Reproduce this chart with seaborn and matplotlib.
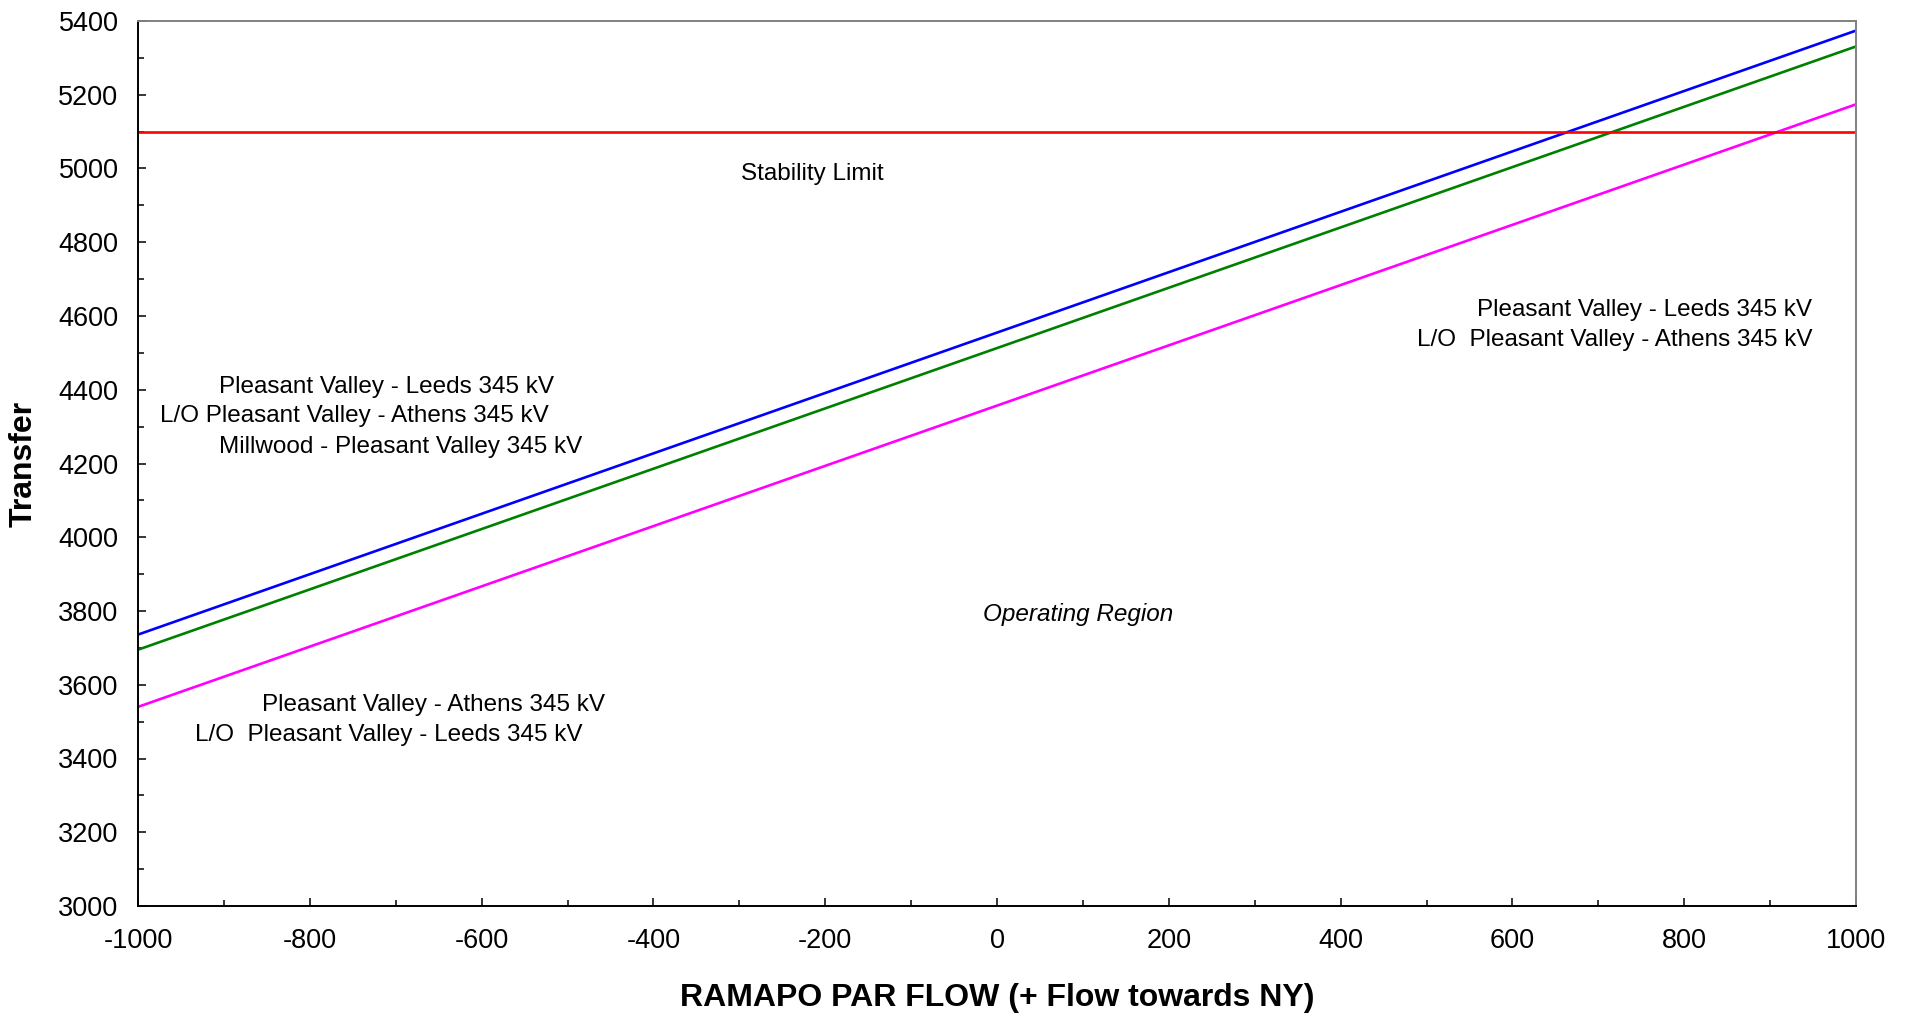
"""Transfer limit vs Ramapo PAR flow."""
import matplotlib
matplotlib.use("Agg")
import matplotlib.pyplot as plt
from matplotlib.ticker import MultipleLocator
import numpy as np
import pandas as pd
import seaborn as sns

# Ramapo PAR flow (MW) and transfer limits
par_flow = [-1000, 0, 1000]
leeds_athens = [3736, 4555, 5374]       # blue
leeds_athens_millwood = [3695, 4513, 5331]   # green
athens_leeds = [3540, 4357, 5174]       # magenta
stability_limit = [5100, 5100, 5100]    # red

series_names = ["PV-Leeds / L/O PV-Athens", "PV-Leeds / L/O PV-Athens / Millwood",
                "PV-Athens / L/O PV-Leeds", "Stability Limit"]
series_colors = ["#0000ff", "#008000", "#ff00ff", "#ff0000"]

df = pd.DataFrame({
    "flow": par_flow * 4,
    "transfer": leeds_athens + leeds_athens_millwood + athens_leeds + stability_limit,
    "case": np.repeat(series_names, len(par_flow)),
})

sns.set_style("white")
plt.rcParams["font.family"] = ["Liberation Sans", "DejaVu Sans"]
plt.rcParams["axes.unicode_minus"] = False
plt.rcParams["text.color"] = "black"
plt.rcParams["axes.labelcolor"] = "black"

fig = plt.figure(figsize=(19.1, 10.15), dpi=100)
ax = fig.add_axes([138 / 1910, 1 - 906 / 1015, 1718 / 1910, 885 / 1015])

sns.lineplot(data=df, x="flow", y="transfer", hue="case", hue_order=series_names,
             palette=series_colors, linewidth=1.9, legend=False, ax=ax)

ax.set_xlim(-1000, 1000)
ax.set_ylim(3000, 5400)
ax.xaxis.set_major_locator(MultipleLocator(200))
ax.xaxis.set_minor_locator(MultipleLocator(100))
ax.yaxis.set_major_locator(MultipleLocator(200))
ax.yaxis.set_minor_locator(MultipleLocator(100))
ax.tick_params(which="both", direction="in", colors="black", width=1.1,
               labelsize=19.5, bottom=True, left=True)
ax.tick_params(which="major", length=6)
ax.tick_params(which="minor", length=4.5)
ax.tick_params(axis="x", pad=16)
ax.tick_params(axis="y", pad=14)

for side in ["left", "bottom"]:
    ax.spines[side].set_color("black")
    ax.spines[side].set_linewidth(1.4)
for side in ["top", "right"]:
    ax.spines[side].set_color("#808080")
    ax.spines[side].set_linewidth(1.4)

ax.set_xlabel("RAMAPO PAR FLOW (+ Flow towards NY)", fontsize=23,
              fontweight="bold", va="center")
ax.set_ylabel("Transfer", fontsize=23, fontweight="bold", va="center")
ax.xaxis.set_label_coords(0.5, -0.1045)
ax.yaxis.set_label_coords(-0.0664, 0.5)

fs = 17.5
ax.text(-215, 4985, "Stability Limit", fontsize=fs, ha="center", va="center")
ax.text(95, 3790, "Operating Region", fontsize=fs, ha="center", va="center",
        style="italic")

ax.text(-906, 4407, "Pleasant Valley - Leeds 345 kV", fontsize=fs, va="center")
ax.text(-974, 4328, "L/O Pleasant Valley - Athens 345 kV", fontsize=fs, va="center")
ax.text(-906, 4246, "Millwood - Pleasant Valley 345 kV", fontsize=fs, va="center")

ax.text(949, 4617, "Pleasant Valley - Leeds 345 kV", fontsize=fs, ha="right", va="center")
ax.text(949, 4536, "L/O  Pleasant Valley - Athens 345 kV", fontsize=fs, ha="right",
        va="center")

ax.text(-856, 3545, "Pleasant Valley - Athens 345 kV", fontsize=fs, va="center")
ax.text(-934, 3464, "L/O  Pleasant Valley - Leeds 345 kV", fontsize=fs, va="center")

fig.savefig("out.png", dpi=100)
